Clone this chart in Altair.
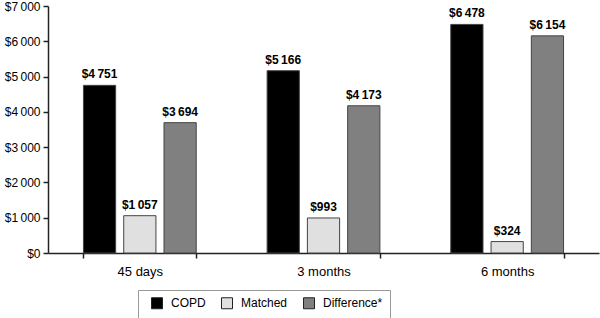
import altair as alt
import pandas as pd

periods = ["45 days", "3 months", "6 months"]
groups = ["COPD", "Matched", "Difference*"]
copd = [4751, 5166, 6478]
matched = [1057, 993, 324]
difference = [3694, 4173, 6154]
colors = ["#000000", "#e0e0e0", "#808080"]

rows = []
for i, p in enumerate(periods):
    for g, vals in zip(groups, [copd, matched, difference]):
        v = vals[i]
        rows.append({"period": p, "group": g, "value": v,
                     "label": "$" + f"{v:,}".replace(",", "\u2009")})
df = pd.DataFrame(rows)

FONT = "Liberation Sans"

x = alt.X("period:N", sort=periods, title=None,
          scale=alt.Scale(paddingInner=0.386, paddingOuter=0.193),
          axis=alt.Axis(labelAngle=0, tickBand="extent", tickSize=5,
                        labelPadding=7, labelFontSize=13, labelFont=FONT,
                        labelColor="black", domainColor="#222", tickColor="#222",
                        domainWidth=1.5, tickWidth=1.5))
xoff = alt.XOffset("group:N", sort=groups,
                   scale=alt.Scale(paddingInner=0.2, paddingOuter=0))
y = alt.Y("value:Q", title=None,
          scale=alt.Scale(domain=[0, 7000], nice=False),
          axis=alt.Axis(values=list(range(0, 7001, 1000)), tickSize=5,
                        labelPadding=3, labelFontSize=12, labelFont=FONT,
                        labelColor="black", grid=False, domainColor="#222",
                        tickColor="#222", domainWidth=1.5, tickWidth=1.5,
                        labelExpr='"$" + replace(format(datum.value, ","), ",", "\u2009")'))

bars = alt.Chart(df).mark_bar(stroke="#444", strokeWidth=1).encode(
    x=x, xOffset=xoff, y=y,
    color=alt.Color("group:N", sort=groups,
                    scale=alt.Scale(domain=groups, range=colors),
                    legend=alt.Legend(title=None, orient="none", direction="horizontal",
                                      legendX=90, legendY=284, strokeColor="#999",
                                      padding=7, symbolType="square", symbolSize=121,
                                      symbolStrokeColor="#222", symbolStrokeWidth=1,
                                      symbolOffset=6, labelOffset=8, columnPadding=9,
                                      labelFontSize=12, labelFont=FONT, labelColor="black",
                                      fillColor="white"))
)

text = alt.Chart(df).mark_text(baseline="bottom", dy=-4, fontSize=12, fontWeight="bold",
                               font=FONT, color="black").encode(
    x=x, xOffset=xoff, y=y, text="label:N")

chart = (bars + text).properties(
    width=551, height=247,
    autosize=alt.AutoSizeParams(type="none"),
    padding={"left": 48, "top": 6, "right": 1, "bottom": 65},
).configure_view(stroke=None)

chart.save("out.html", embed_options={"renderer": "svg", "actions": False})
